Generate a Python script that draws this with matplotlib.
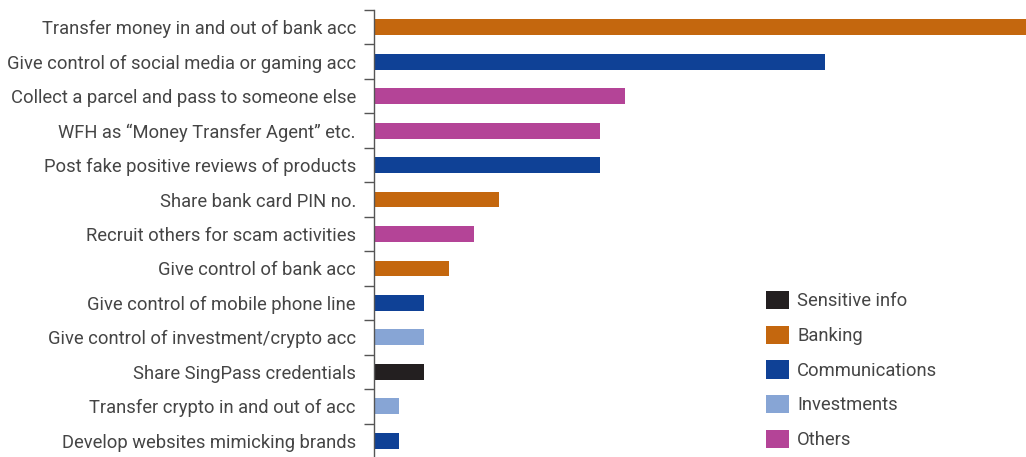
import matplotlib
matplotlib.use("Agg")
import matplotlib.pyplot as plt
from matplotlib.patches import Patch
import numpy as np

plt.rcParams['font.family'] = ['Roboto', 'DejaVu Sans']

activities = [
    "Transfer money in and out of bank acc",
    "Give control of social media or gaming acc",
    "Collect a parcel and pass to someone else",
    "WFH as \u201cMoney Transfer Agent\u201d etc.",
    "Post fake positive reviews of products",
    "Share bank card PIN no.",
    "Recruit others for scam activities",
    "Give control of bank acc",
    "Give control of mobile phone line",
    "Give control of investment/crypto acc",
    "Share SingPass credentials",
    "Transfer crypto in and out of acc",
    "Develop websites mimicking brands",
]
counts = [26, 18, 10, 9, 9, 5, 4, 3, 2, 2, 2, 1, 1]
groups = ["Banking", "Communications", "Others", "Others", "Communications",
          "Banking", "Others", "Banking", "Communications", "Investments",
          "Sensitive info", "Investments", "Communications"]

group_order = ["Sensitive info", "Banking", "Communications", "Investments", "Others"]
group_colors = {
    "Sensitive info": "#231f20",
    "Banking": "#c4670e",
    "Communications": "#0f4196",
    "Investments": "#87a5d5",
    "Others": "#b44497",
}
text_color = "#454545"

fig = plt.figure(figsize=(10.26, 4.57), dpi=100)
ax = fig.add_axes([374 / 1026, -1 / 457, 1 - 374 / 1026, 448 / 457])

y = np.arange(len(activities))
ax.barh(y, counts, height=0.46, color=[group_colors[g] for g in groups])

ax.set_xlim(0, 26)
ax.set_ylim(len(activities) - 0.5, -0.5)

for side in ("top", "right", "bottom"):
    ax.spines[side].set_visible(False)
ax.spines["left"].set_color("#555555")
ax.spines["left"].set_linewidth(1.0)
ax.set_xticks([])

label_font = dict(size=13.2, weight="normal")
ax.set_yticks(y)
ax.set_yticklabels(activities, color=text_color, **label_font)
ax.tick_params(axis="y", which="major", length=0, pad=13)
ax.set_yticks(np.arange(-0.5, len(activities) + 0.5, 1.0), minor=True)
ax.tick_params(axis="y", which="minor", length=7, width=1.0, color="#555555")

handles = [Patch(facecolor=group_colors[g], edgecolor="none", label=g) for g in group_order]
leg = ax.legend(handles=handles, loc="upper left",
                bbox_to_anchor=((766 - 374) / 652, (458 - 291) / 448),
                frameon=False, prop=label_font, handlelength=1.25, handleheight=1.15,
                labelspacing=0.84, handletextpad=0.45, borderaxespad=0, borderpad=0)
for t in leg.get_texts():
    t.set_color(text_color)

fig.savefig("out.png", dpi=100)
